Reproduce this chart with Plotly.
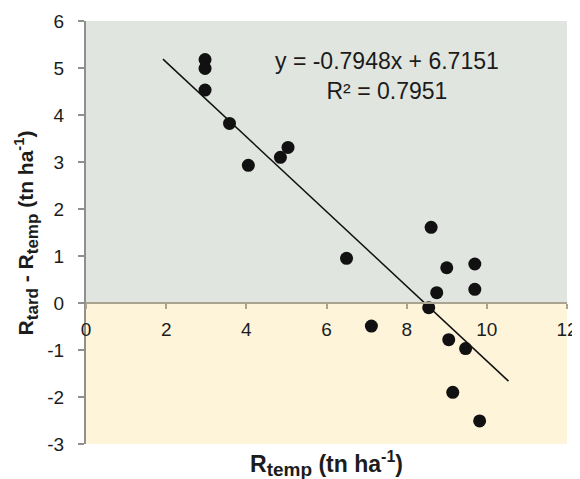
import plotly.graph_objects as go

# ---- data ----
r_temp = [2.97, 2.97, 2.97, 3.58, 4.05, 4.85, 5.04, 6.50, 7.12, 8.55, 8.61, 8.75,
          9.00, 9.05, 9.15, 9.47, 9.70, 9.70, 9.82]
r_diff = [5.18, 4.99, 4.53, 3.82, 2.93, 3.10, 3.31, 0.95, -0.49, -0.10, 1.61, 0.22,
          0.75, -0.78, -1.90, -0.97, 0.83, 0.29, -2.51]

slope = -0.7948
intercept = 6.7151
r_squared = 0.7951
trend_x = [1.92, 10.54]
trend_y = [slope * v + intercept for v in trend_x]

x_ticks = [0, 2, 4, 6, 8, 10, 12]
x_labels = ["0", "2", "4", "6", "8", "10", "12"]
y_ticks = [-3, -2, -1, 0, 1, 2, 3, 4, 5, 6]
y_labels = ["-3", "-2", "-1", "0", "1", "2", "3", "4", "5", "6"]

FONT = "Liberation Sans, Arial, sans-serif"
TXT = "#1c1c1c"

fig = go.Figure()

# background bands
fig.add_shape(type="rect", xref="x", yref="y", x0=0, x1=12, y0=0, y1=6,
              fillcolor="#e1e5df", line_width=0, layer="below")
fig.add_shape(type="rect", xref="x", yref="y", x0=0, x1=12, y0=-3, y1=0,
              fillcolor="#fef4da", line_width=0, layer="below")

fig.add_trace(go.Scatter(x=trend_x, y=trend_y, mode="lines",
                         line=dict(color="#111111", width=1.5),
                         hoverinfo="skip", showlegend=False))
fig.add_trace(go.Scatter(x=r_temp, y=r_diff, mode="markers",
                         marker=dict(color="#111111", size=13, line=dict(width=0)),
                         showlegend=False))

fig.add_annotation(x=7.52, y=4.83, xref="x", yref="y",
                   text=f"y = {slope}x + {intercept}<br>R² = {r_squared}",
                   showarrow=False, align="center",
                   font=dict(family=FONT, size=23, color=TXT))

fig.add_annotation(x=0.5, y=-0.047, xref="paper", yref="paper",
                   text="<b>R<sub><span style='font-size:19px'>temp</span></sub> (tn ha<sup>-1</sup>)</b>",
                   showarrow=False, xanchor="center", yanchor="middle",
                   font=dict(family=FONT, size=23, color=TXT))
fig.add_annotation(x=-0.125, y=0.5, xref="paper", yref="paper", textangle=-90,
                   text="<b>R<sub><span style='font-size:17px'>tard</span></sub> - R<sub><span style='font-size:17px'>temp</span></sub> (tn ha<sup>-1</sup>)</b>",
                   showarrow=False, xanchor="center", yanchor="middle",
                   font=dict(family=FONT, size=21, color=TXT))

fig.update_layout(
    width=580, height=479,
    margin=dict(l=78, r=21, t=13, b=43, autoexpand=False),
    paper_bgcolor="white", plot_bgcolor="rgba(0,0,0,0)",
    font=dict(family=FONT, size=19, color=TXT),
    xaxis=dict(range=[0, 12], tickvals=x_ticks, ticktext=x_labels,
               showgrid=False, zeroline=False, automargin=False,
               anchor="free", position=1/3, showline=True, linecolor="#a9a38f",
               linewidth=2, ticks="outside", ticklen=5, tickcolor="#a9a38f",
               tickwidth=1.5, ticklabelstandoff=4,
               tickfont=dict(family=FONT, size=19, color=TXT)),
    yaxis=dict(range=[-3, 6], tickvals=y_ticks, ticktext=y_labels,
               showgrid=False, zeroline=False, automargin=False,
               showline=True, linecolor="#8f8f8f", linewidth=2, ticks="outside",
               ticklen=6, tickcolor="#8f8f8f", tickwidth=1.5, ticklabelstandoff=10,
               tickfont=dict(family=FONT, size=19, color=TXT)),
)

fig.write_html("out.html")
